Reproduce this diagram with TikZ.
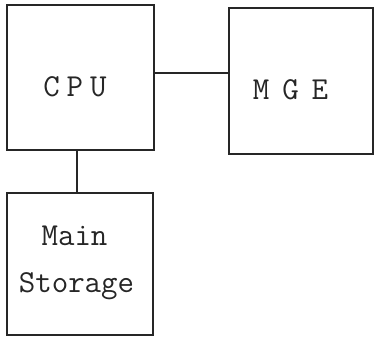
\documentclass[tikz,border=0pt]{standalone}
\usepackage{fontspec}
\begin{document}
\begin{tikzpicture}[x=1pt,y=-1pt,
  box/.style={draw=black!85,line width=1.3pt,rectangle,inner sep=0pt},
  lbl/.style={font=\ttfamily\fontsize{32}{35}\selectfont\addfontfeature{FakeBold=1.4},inner sep=0pt,anchor=base,text=black!85},
  wire/.style={draw=black!85,line width=1.3pt}]
\useasboundingbox (0,0) rectangle (377,339);
\node[box,minimum width=147pt,minimum height=145pt] (cpu) at (80.5,77.5) {};
\node[box,minimum width=144pt,minimum height=146pt] (mge) at (301,81) {};
\node[box,minimum width=146pt,minimum height=142pt] (ms) at (80,264) {};
\node[lbl] (cputxt) at (75,97) {C\hspace{7pt}P\hspace{7pt}U};
\node[lbl] (mgetxt) at (290.5,100) {M\hspace{13pt}G\hspace{13pt}E};
\node[lbl] (maintxt) at (74.5,245) {Main};
\node[lbl] (stortxt) at (76.5,292) {Storage};
\draw[wire] (cpu.east |- 0,73) -- (mge.west |- 0,73);
\draw[wire] (cpu.south -| 77,0) -- (ms.north -| 77,0);
\end{tikzpicture}
\end{document}
